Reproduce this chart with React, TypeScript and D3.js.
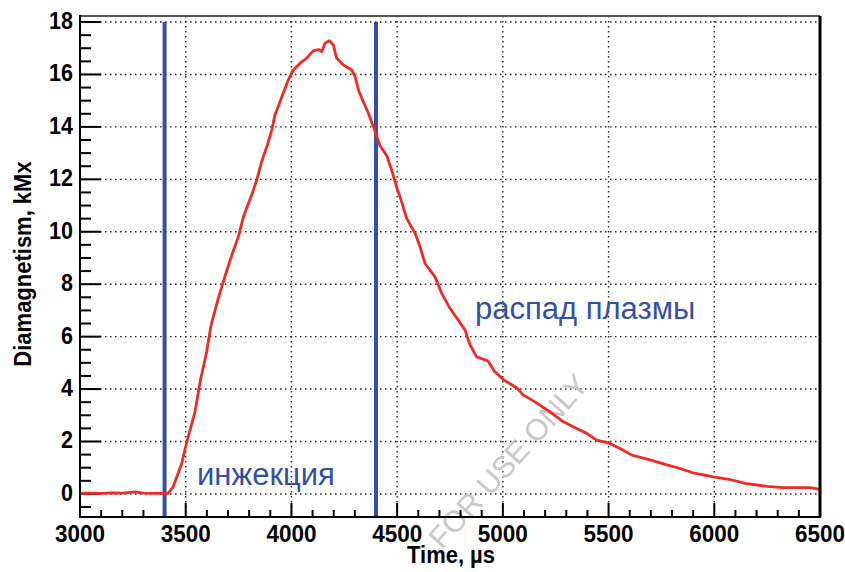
import React from "react";
import * as d3 from "d3";

const timeUs: number[] = [
  3000, 3050, 3100, 3150, 3200, 3260, 3300, 3350, 3400, 3416, 3441, 3481, 3505, 3544, 3568, 3599,
  3620, 3654, 3690, 3718, 3749, 3773, 3795, 3812, 3836, 3859, 3886, 3907, 3922, 3946, 3970, 3985,
  4009, 4041, 4072, 4104, 4130, 4143, 4159, 4179, 4198, 4214, 4246, 4285, 4301, 4317, 4340, 4364,
  4388, 4419, 4451, 4474, 4500, 4521, 4545, 4585, 4608, 4632, 4679, 4711, 4750, 4789, 4821, 4845,
  4876, 4930, 4959, 5006, 5065, 5097, 5152, 5223, 5286, 5349, 5397, 5444, 5499, 5554, 5610, 5700,
  5780, 5838, 5901, 5996, 6075, 6146, 6248, 6327, 6453, 6500,
];
const diamag: number[] = [
  0.02, 0.03, 0.02, 0.04, 0.03, 0.08, 0.03, 0.02, 0.02, 0.02, 0.27, 1.16, 1.98, 3.13, 4.28, 5.42,
  6.44, 7.46, 8.41, 9.11, 9.81, 10.57, 11.05, 11.4, 11.97, 12.67, 13.31, 13.88, 14.45, 14.96, 15.47, 15.79,
  16.17, 16.43, 16.62, 16.91, 16.95, 16.87, 17.19, 17.29, 17.13, 16.62, 16.36, 16.17, 15.92, 15.41, 14.96, 14.52,
  14.01, 13.28, 12.9, 12.35, 11.65, 11.15, 10.51, 9.94, 9.43, 8.79, 8.28, 7.65, 7.08, 6.63, 6.25, 5.68,
  5.23, 5.07, 4.69, 4.34, 4.05, 3.77, 3.51, 3.13, 2.75, 2.5, 2.31, 2.05, 1.95, 1.73, 1.48, 1.29,
  1.1, 0.97, 0.8, 0.65, 0.55, 0.4, 0.29, 0.24, 0.24, 0.17,
];
const xTicks: number[] = [3000, 3500, 4000, 4500, 5000, 5500, 6000, 6500];
const yTicks: number[] = [0, 2, 4, 6, 8, 10, 12, 14, 16, 18];
const markerTimes: number[] = [3400, 4400];
const labelInjection = "инжекция";
const labelDecay = "распад плазмы";
const xTitle = "Time, µs";
const yTitle = "Diamagnetism, kMx";
const watermark = "FOR USE ONLY";

export default function App() {
  const W = 845, H = 572;
  const L = 80, R = 820, T = 16, B = 517;
  const x = d3.scaleLinear().domain([3000, 6500]).range([L, R]);
  const y = d3.scaleLinear().domain([-0.88, 18.23]).range([B, T]);
  const pts = timeUs.map((t, i) => [t, diamag[i]] as [number, number]);
  const line = d3.line<[number, number]>().x((d) => x(d[0])).y((d) => y(d[1]));
  const xMinor = d3.range(3000, 6501, 100).filter((v) => v % 500 !== 0);
  const yMinor = d3.range(-0.5, 18.01, 0.5).filter((v) => Math.abs(v % 2) > 1e-6);
  const font = "'Liberation Sans', Arial, Helvetica, sans-serif";
  const blue = "#3450a2";

  return (
    <svg width={W} height={H} style={{ position: "absolute", left: 0, top: 0, background: "#fff" }}
      fontFamily={font}>
      {/* grid */}
      {xTicks.filter((v) => v > 3000 && v < 6500).map((v) => (
        <line key={"gx" + v} x1={x(v)} x2={x(v)} y1={T} y2={B} stroke="#222" strokeWidth={1.4}
          strokeDasharray="1.5,3.5" />
      ))}
      {yTicks.map((v) => (
        <line key={"gy" + v} x1={L} x2={R} y1={y(v)} y2={y(v)} stroke="#222" strokeWidth={1.4}
          strokeDasharray="1.5,3.5" />
      ))}
      {/* watermark */}
      <text x={590} y={386} textAnchor="end" fontSize={30} fill="#c8c8c8"
        transform="rotate(-48 590 386)">{watermark}</text>
      {/* ticks */}
      {yTicks.map((v) => (
        <line key={"ty" + v} x1={L} x2={L + 21} y1={y(v)} y2={y(v)} stroke="#000" strokeWidth={2} />
      ))}
      {yMinor.map((v) => (
        <line key={"tym" + v} x1={L} x2={L + 11} y1={y(v)} y2={y(v)} stroke="#000" strokeWidth={2} />
      ))}
      {xTicks.map((v) => (
        <line key={"tx" + v} x1={x(v)} x2={x(v)} y1={B} y2={B - 14} stroke="#000" strokeWidth={2} />
      ))}
      {xMinor.map((v) => (
        <line key={"txm" + v} x1={x(v)} x2={x(v)} y1={B} y2={B - 7} stroke="#000" strokeWidth={2} />
      ))}
      {/* markers */}
      {markerTimes.map((t) => (
        <line key={"m" + t} x1={x(t)} x2={x(t)} y1={y(18)} y2={B} stroke={blue} strokeWidth={4} />
      ))}
      {/* data */}
      <path d={line(pts) || ""} fill="none" stroke="#ee2b24" strokeWidth={2.8} strokeLinejoin="round" />
      {/* frame */}
      <line x1={L} x2={R} y1={T} y2={T} stroke="#555" strokeWidth={2} />
      <line x1={R} x2={R} y1={T} y2={B} stroke="#000" strokeWidth={3} />
      <line x1={L} x2={L} y1={T - 1} y2={B + 1} stroke="#000" strokeWidth={2} />
      <line x1={L - 1} x2={R + 1} y1={B} y2={B} stroke="#000" strokeWidth={2} />
      {/* tick labels */}
      {yTicks.map((v) => (
        <text key={"ly" + v} transform={`translate(73 ${y(v) + 7}) scale(1 1.15)`} textAnchor="end"
          fontSize={21.5} fontWeight="bold">{v}</text>
      ))}
      {xTicks.map((v) => (
        <text key={"lx" + v} transform={`translate(${x(v)} 541.5) scale(1 1.05)`} textAnchor="middle"
          fontSize={22.5} fontWeight="bold">{v}</text>
      ))}
      {/* titles */}
      <text transform="translate(451 563) scale(1 1.08)" textAnchor="middle" fontSize={22} fontWeight="bold">
        {xTitle}
      </text>
      <text transform="translate(31 264) rotate(-90) scale(1 1.12)" textAnchor="middle" fontSize={22}
        fontWeight="bold">{yTitle}</text>
      {/* annotations */}
      <text x={197} y={485} fontSize={31} fill={blue}>{labelInjection}</text>
      <text x={475} y={319} fontSize={31} fill={blue}>{labelDecay}</text>
    </svg>
  );
}
